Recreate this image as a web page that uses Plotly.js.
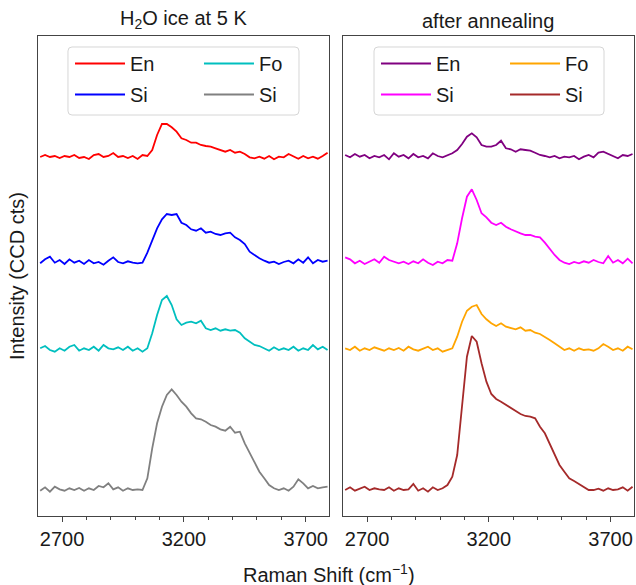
<!DOCTYPE html>
<html>
<head>
<meta charset="utf-8">
<script src="https://cdn.plot.ly/plotly-3.0.1.min.js"></script>
<style>html,body{margin:0;padding:0;background:#fff;}</style>
</head>
<body>
<div id="chart" style="width:636px;height:585px;"></div>
<script>
// Raman shift grid (cm^-1)
const ramanShift = [2610,2630,2650,2670,2690,2710,2730,2750,2770,2790,2810,2830,2850,2870,2890,2910,2930,2950,2970,2990,3010,3030,3050,3070,3090,3110,3130,3150,3170,3190,3210,3230,3250,3270,3290,3310,3330,3350,3370,3390,3410,3430,3450,3470,3490,3510,3530,3550,3570,3590,3610,3630,3650,3670,3690,3710,3730,3750,3770,3790];

// Left panel: H2O ice at 5 K (stacked intensities, arbitrary CCD counts)
const ice_En = [359,361,359,360,358,360,359,361,358,359,357,361,362,359,360,363,359,360,358,360,357,361,360,366,381,392,392,388.7,384.3,377.7,376,373.3,373.3,371,370,369.3,367.7,366,364.3,366,363.3,364.3,362,358.7,357.7,359.3,357.3,360,356.7,359.3,358.7,362,359.3,357.3,360,357.7,359.3,357.3,360,363.3];
const ice_Si1 = [252.7,256.7,259.3,253.3,256,252,256.7,253.3,255.3,252,256,252.7,254,251.3,255.3,258.7,254,252.7,254.7,253.3,252.7,253.3,263.3,276,287.7,296.7,302,301,302,293.3,291,286.7,285.3,287.7,283.3,284.3,282,281,282.7,283.3,278.7,276,272,264.3,261,257.7,255.3,253.3,254.3,252,254,255.3,252.7,256.7,253.3,258.7,252.7,256,254.3,255.3];
const ice_Fo = [167.7,170,166,164.3,167.7,165.3,169.3,171,165.3,167.7,166,169.3,165.3,171,167.7,166.7,168.7,166,169.3,165.3,167.7,164.3,167.7,182.7,201,216,220,211,196.7,191,193.3,194.3,192.7,195.3,187.7,186,187.7,185.3,186.7,185.3,186,183.3,177.7,174.3,171,170,167.7,165.3,168.7,166,167.7,166,169.3,165.3,167.7,166,171,166.7,169.3,166];
const ice_Si2 = [25.3,28.7,24.3,29.3,26.7,25.3,27.7,26,28,25.3,27.7,26,30,28.7,32.7,26.7,28.7,25.3,27.7,26,26.7,26,37.7,67.7,92.7,109.3,121,126.7,121,114.3,109.3,102.7,97.7,96.7,94.3,91,89.3,86.7,85.3,89.3,83.3,84.3,72.7,63.3,53.3,44.3,37.7,31,27.7,26,27.7,25.3,29.3,36.7,32.7,27.7,30,27.7,28.7,29.3];

// Right panel: after annealing
const ann_En = [361,358.7,362,359.3,361,357.7,360,358.7,361,356.7,362.7,359.3,361,357.7,362,358.7,360,357.7,362.7,360,358.7,361,362.7,366,372,379.3,382.7,378.7,371,369.3,369.3,371,375.3,367.7,366.7,364.3,366.7,366,365.3,363.3,361,360,358.7,360,357.7,359.3,358.7,360,356.7,359.3,361,358.7,363.3,364.3,362,359.3,357.7,361,360,362];
const ann_Si1 = [258.7,256.7,252.7,255.3,252,254.3,256.7,253.3,259.3,256,254.7,252.7,254.3,252,254.7,252.7,256.7,253.3,251,254.3,252.7,256,255.3,272.7,297.7,319.3,326.7,316,302.7,298.7,293.3,291,293.3,289.3,286.7,284.3,282.7,281,281,279.3,278.7,273.3,266.7,261,256,253.3,252,254,252.7,254.7,253.3,256,254,252.7,260,253.3,256,252.7,257.3,252.7];
const ann_Fo = [167.7,166,169.3,165.3,167.7,166,168.7,166.7,165.3,167.7,166,168,165.3,169.3,166.7,165.3,167.7,169.3,166,167.7,164.3,166,167.7,179.3,194.3,205.3,209.3,211,202,196.7,192.7,190,192.7,189.3,187.7,186.7,188.7,185.3,186,183.3,182,179.3,176,172.7,169.3,166,167.7,165.3,167.7,166,166.7,165.3,167.7,172,169.3,166,167.7,165.3,169.3,166.7];
const ann_Si2 = [26,28.7,25.3,27.7,29.3,26,27.7,26.7,26,28.7,25.3,27.7,26,26.7,32,25.3,27.7,24.3,28.7,26,27.7,31,39.3,61,112.7,159.3,180,174.3,152.7,134.3,122,117,114.3,111,107.7,105.3,102,100,99.3,97.7,89.3,82.7,72.7,61,51,44.3,37.7,35,32,29.3,26,26,27.3,25.3,27.7,26,26.7,28.7,25.3,29.3];

const names = ['En','Si','Fo','Si'];
const panelTitles = ['H<sub>2</sub>O ice at 5 K','after annealing'];
const xTickVals = [2700,3200,3700];

function makeTrace(y, name, color, xa, ya, lg, grp){
  return {x: ramanShift, y: y, name: name, type:'scatter', mode:'lines',
    line:{color:color, width:1.8}, xaxis:xa, yaxis:ya, legend:lg, legendgroup:grp, showlegend:true};
}

const data = [
  makeTrace(ice_En, names[0], '#ff0000','x','y','legend','a1'),
  makeTrace(ice_Si1, names[1], '#0000ff','x','y','legend','a2'),
  makeTrace(ice_Fo, names[2], '#00bfbf','x','y','legend2','a3'),
  makeTrace(ice_Si2, names[3], '#808080','x','y','legend2','a4'),
  makeTrace(ann_En, names[0], '#800080','x2','y2','legend3','b1'),
  makeTrace(ann_Si1, names[1], '#ff00ff','x2','y2','legend3','b2'),
  makeTrace(ann_Fo, names[2], '#ffa500','x2','y2','legend4','b3'),
  makeTrace(ann_Si2, names[3], '#a52a2a','x2','y2','legend4','b4')
];

const axCol = '#444';
function xax(domain, anchor){
  return {domain:domain, anchor:anchor, range:[2601,3796], tickvals:xTickVals, ticktext:xTickVals.map(String),
    ticks:'outside', ticklen:5, tickwidth:1, tickcolor:axCol,
    showline:true, mirror:true, linecolor:axCol, linewidth:1.3, showgrid:false, zeroline:false,
    tickfont:{size:20, color:'#1a1a1a'},
    minor:{dtick:100, tick0:2700, ticks:'outside', ticklen:3, tickwidth:1, tickcolor:axCol, showgrid:false}};
}
function yax(anchor, title){
  const a = {anchor:anchor, range:[0,480], showticklabels:false, ticks:'', showline:true, mirror:true,
    linecolor:axCol, linewidth:1.3, showgrid:false, zeroline:false};
  if (title) a.title = {text:title, standoff:6, font:{size:20, color:'#1a1a1a'}};
  return a;
}
function legendCol(x){
  return {x:x, y:0.9833, xanchor:'left', yanchor:'top', orientation:'v', itemwidth:50,
    tracegroupgap:2, bgcolor:'rgba(0,0,0,0)', borderwidth:0,
    font:{size:20, color:'#1a1a1a'}};
}
// rounded legend frame in paper coordinates
function roundBox(x0, x1, yb, yt){
  const rx = 0.0067, ry = 0.0083;
  return {type:'path', xref:'paper', yref:'paper', layer:'above',
    path:`M${x0+rx},${yt} L${x1-rx},${yt} Q${x1},${yt} ${x1},${yt-ry} L${x1},${yb+ry} Q${x1},${yb} ${x1-rx},${yb} L${x0+rx},${yb} Q${x0},${yb} ${x0},${yb+ry} L${x0},${yt-ry} Q${x0},${yt} ${x0+rx},${yt} Z`,
    fillcolor:'rgba(255,255,255,0.8)', line:{color:'#d6d6d6', width:1}};
}

const layout = {
  width:636, height:585,
  margin:{l:38, r:2, t:36, b:69, pad:0},
  paper_bgcolor:'#ffffff', plot_bgcolor:'#ffffff',
  font:{family:'Liberation Sans, Arial, sans-serif', size:20, color:'#1a1a1a'},
  xaxis: xax([0,0.4883],'y'),
  xaxis2: xax([0.5117,1],'y2'),
  yaxis: yax('x','Intensity (CCD cts)'),
  yaxis2: yax('x2', null),
  legend: legendCol(0.0537),
  legend2: legendCol(0.2701),
  legend3: legendCol(0.5671),
  legend4: legendCol(0.7836),
  shapes:[ roundBox(0.0503, 0.4379, 0.8354, 0.9771), roundBox(0.5638, 0.9497, 0.8354, 0.9771) ],
  annotations:[
    {text:panelTitles[0], xref:'x domain', yref:'y domain', x:0.5, y:1, xanchor:'center', yanchor:'bottom', yshift:2, showarrow:false, font:{size:20}},
    {text:panelTitles[1], xref:'x2 domain', yref:'y2 domain', x:0.5, y:1, xanchor:'center', yanchor:'bottom', yshift:2, showarrow:false, font:{size:20}},
    {text:'Raman Shift (cm<sup>−1</sup>)', xref:'paper', yref:'paper', x:0.488, y:0, xanchor:'center', yanchor:'middle', yshift:-57, showarrow:false, font:{size:20}}
  ]
};

Plotly.newPlot('chart', data, layout, {displayModeBar:false, staticPlot:true});
</script>
</body>
</html>
